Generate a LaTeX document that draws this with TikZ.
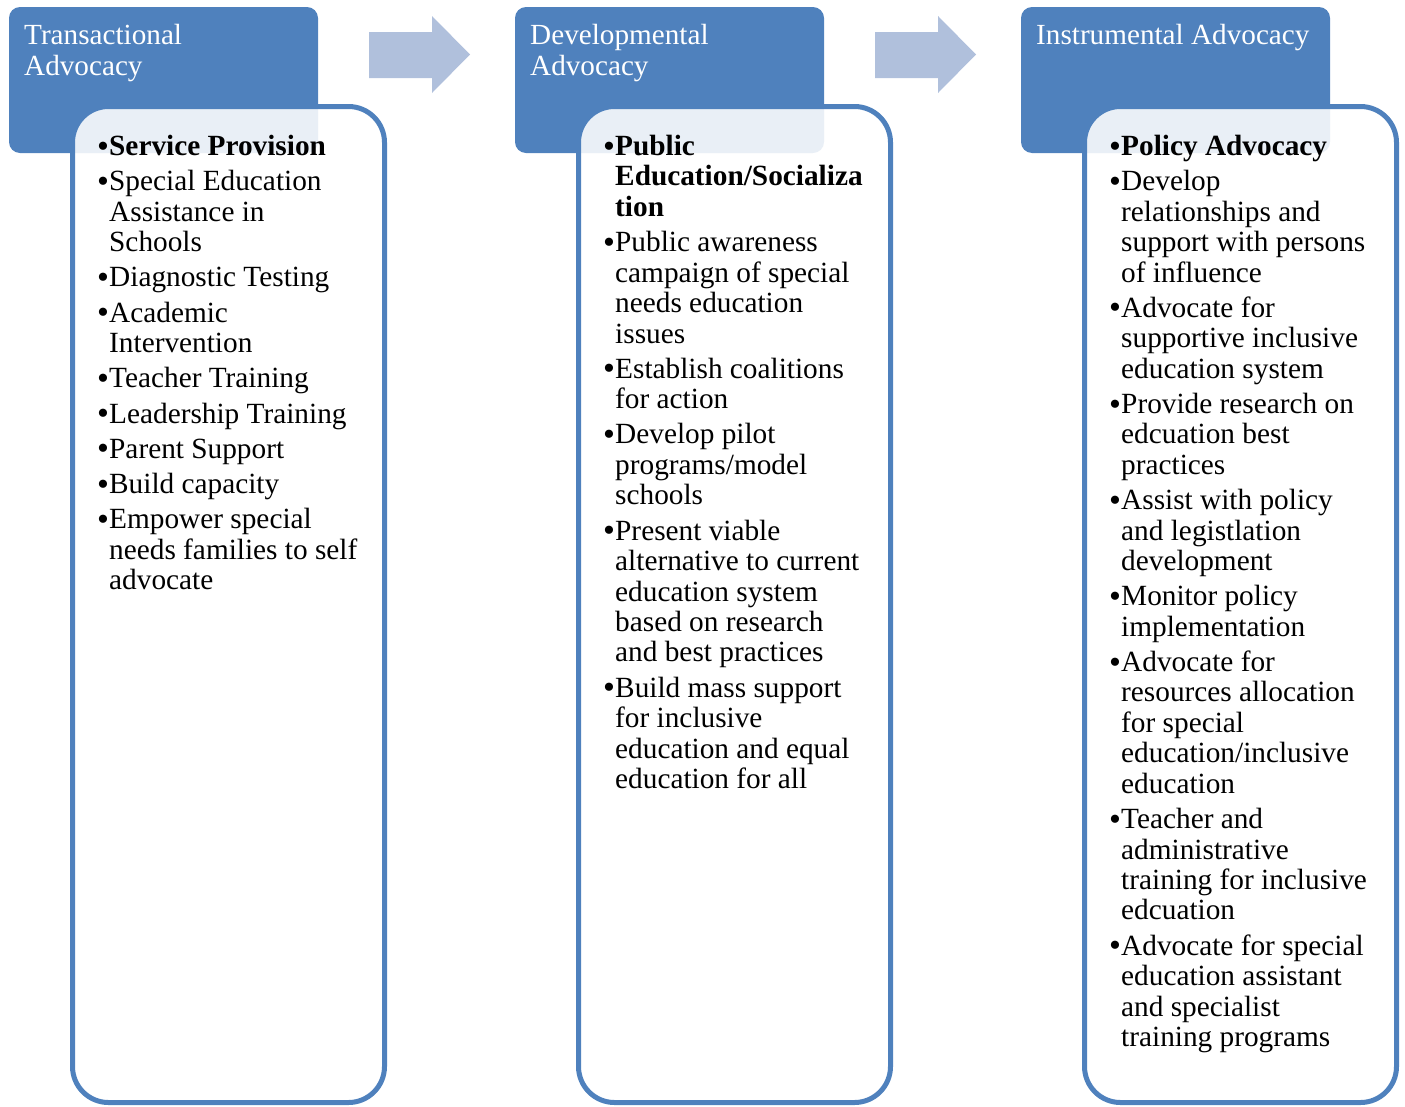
\documentclass[tikz,border=0pt]{standalone}
\usepackage{fontspec}
\setmainfont{Liberation Serif}
\definecolor{hdr}{HTML}{4F81BD}
\definecolor{arw}{RGB}{176,192,220}
\newcommand\gap{\\[4.8pt]}
\newcommand\bul{\makebox[12pt][l]{\fontsize{34}{30}\selectfont\raisebox{-1.5pt}{•}}}
\begin{document}
\begin{tikzpicture}[x=1pt,y=-1pt,
  header/.style={fill=hdr, rounded corners=11pt, minimum width=309pt, minimum height=146pt, anchor=north west, inner sep=0pt, outer sep=0pt},
  content/.style={draw=hdr, line width=5pt, fill=white, fill opacity=0.88, rounded corners=36pt, minimum width=312pt, minimum height=996pt, anchor=north west, inner sep=0pt, outer sep=0pt},
  htext/.style={text=white, anchor=base west, inner sep=0pt, font=\fontsize{29.2}{31}\selectfont},
  btext/.style={text=black, anchor=base west, inner sep=0pt, font=\fontsize{29.3}{30.45}\selectfont},
  flow/.style={fill=arw}]
\useasboundingbox (0,0) rectangle (1405,1106);

% headers
\node[header] (h1) at (9,7) {};
\node[header] (h2) at (515,7) {};
\node[header] (h3) at (1021,7) {};

\node[htext] (h1t) at (24,44) {\begin{tabular}[t]{@{}l@{}}Transactional\\Advocacy\end{tabular}};
\node[htext] (h2t) at (530,44) {\begin{tabular}[t]{@{}l@{}}Developmental\\Advocacy\end{tabular}};
\node[htext] (h3t) at (1036,44) {\begin{tabular}[t]{@{}l@{}}Instrumental Advocacy\end{tabular}};

% arrows
\foreach \dx/\nm in {0/a1,506/a2}{
  \fill[flow] (369+\dx,32) -- (432+\dx,32) -- (432+\dx,16) -- (470+\dx,54.5)
     -- (432+\dx,93) -- (432+\dx,78) -- (369+\dx,78) -- cycle;
}

% content boxes
\node[content] (c1) at (72.5,106.5) {};
\node[content] (c2) at (578.5,106.5) {};
\node[content] (c3) at (1084.5,106.5) {};

\node[btext] (t1) at (97,155.5) {\begin{tabular}[t]{@{}l@{}l@{}}
\bul&\textbf{Service Provision}\gap
\bul&Special Education\\ &Assistance in\\ &Schools\gap
\bul&Diagnostic Testing\gap
\bul&Academic\\ &Intervention\gap
\bul&Teacher Training\gap
\bul&Leadership Training\gap
\bul&Parent Support\gap
\bul&Build capacity\gap
\bul&Empower special\\ &needs families to self\\ &advocate
\end{tabular}};

\node[btext] (t2) at (603,155.5) {\begin{tabular}[t]{@{}l@{}l@{}}
\bul&\textbf{Public}\\ &\textbf{Education/Socializa}\\ &\textbf{tion}\gap
\bul&Public awareness\\ &campaign of special\\ &needs education\\ &issues\gap
\bul&Establish coalitions\\ &for action\gap
\bul&Develop pilot\\ &programs/model\\ &schools\gap
\bul&Present viable\\ &alternative to current\\ &education system\\ &based on research\\ &and best practices\gap
\bul&Build mass support\\ &for inclusive\\ &education and equal\\ &education for all
\end{tabular}};

\node[btext] (t3) at (1109,155.5) {\begin{tabular}[t]{@{}l@{}l@{}}
\bul&\textbf{Policy Advocacy}\gap
\bul&Develop\\ &relationships and\\ &support with persons\\ &of influence\gap
\bul&Advocate for\\ &supportive inclusive\\ &education system\gap
\bul&Provide research on\\ &edcuation best\\ &practices\gap
\bul&Assist with policy\\ &and legistlation\\ &development\gap
\bul&Monitor policy\\ &implementation\gap
\bul&Advocate for\\ &resources allocation\\ &for special\\ &education/inclusive\\ &education\gap
\bul&Teacher and\\ &administrative\\ &training for inclusive\\ &edcuation\gap
\bul&Advocate for special\\ &education assistant\\ &and specialist\\ &training programs
\end{tabular}};
\end{tikzpicture}
\end{document}
